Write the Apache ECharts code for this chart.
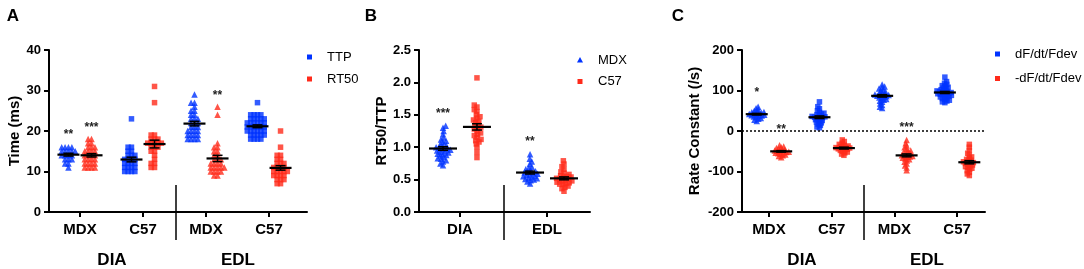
<!DOCTYPE html>
<html><head><meta charset="utf-8">
<script src="https://cdn.jsdelivr.net/npm/echarts@6/dist/echarts.min.js"></script>
<style>html,body{margin:0;padding:0;background:#fff}#c{width:1084px;height:269px}</style>
</head><body><div id="c"></div>
<script>
const FONT = '"Liberation Sans", Arial, Helvetica, sans-serif';
const BLUE = '#0033ff', RED = '#ff2a1a';

// ---------- Panel A : Time (ms) ----------
const catsA = ['MDX', 'C57', 'MDX', 'C57'];
const ttpA = [
  [16,16,16,16,15,15,15,15,15,14,14,14,14,13,13,13,12,12,11],
  [23,16,16,15,15,14,14,14,13,13,13,13,12,12,12,12,11,11,11,11,10,10,10,10],
  [29,27,27,26,25,25,24,24,23,23,23,22,22,22,21,21,21,20,20,20,20,19,19,19,19,18,18,18,18],
  [27,24,24,24,24,23,23,23,23,23,22,22,22,22,22,22,21,21,21,21,21,21,20,20,20,20,20,20,19,19,19,19,19,18,18,18,18]
];
const rt50A = [
  [18,18,17,17,16,16,16,15,15,15,15,14,14,14,14,13,13,13,13,12,12,12,12,11,11,11,11],
  [31,27,19,19,18,18,18,17,17,17,17,17,16,16,16,15,15,14,13,12,12,11,11],
  [26,24,17,16,16,15,15,14,14,13,13,13,12,12,12,12,11,11,11,11,11,10,10,10,10,9,9],
  [20,16,14,14,13,13,12,12,12,11,11,11,11,10,10,10,10,10,9,9,9,9,8,8,8,7,7]
];
const yTicksA = [0, 10, 20, 30, 40];
const starsA = [[0, -1, 19.8, '**'], [0, 1, 21.5, '***'], [2, 1, 29.4, '**']];

// ---------- Panel B : RT50/TTP ----------
const catsB = ['DIA', 'EDL'];
const mdxB = [
  [1.33,1.30,1.25,1.20,1.15,1.12,1.10,1.08,1.05,1.03,1.02,1.00,0.99,0.98,0.97,0.96,0.95,0.94,0.93,0.92,0.90,0.90,0.88,0.87,0.85,0.83,0.82,0.80,0.78,0.75,0.72],
  [0.89,0.82,0.78,0.74,0.70,0.68,0.66,0.64,0.63,0.62,0.61,0.60,0.59,0.58,0.57,0.56,0.55,0.54,0.53,0.52,0.51,0.50,0.49,0.47,0.44]
];
const c57B = [
  [2.07,1.65,1.62,1.58,1.55,1.50,1.47,1.45,1.42,1.40,1.38,1.35,1.33,1.31,1.30,1.28,1.25,1.22,1.20,1.18,1.15,1.12,1.10,1.08,1.05,1.00,0.92,0.84],
  [0.79,0.74,0.70,0.66,0.62,0.60,0.58,0.56,0.55,0.54,0.53,0.52,0.51,0.50,0.49,0.48,0.47,0.46,0.45,0.44,0.43,0.42,0.40,0.38,0.36,0.32]
];
const yTicksB = [0, 0.5, 1.0, 1.5, 2.0, 2.5];
const starsB = [[0, -1, 1.56, '***'], [1, -1, 1.125, '**']];

// ---------- Panel C : Rate Constant (/s) ----------
const catsC = ['MDX', 'C57', 'MDX', 'C57'];
const dfC = [
  [60,56,53,50,48,47,46,45,44,43,42,41,40,39,38,37,36,34,32,30,28,25],
  [72,60,55,50,46,44,42,40,38,36,35,34,33,32,30,28,26,24,22,20,17,14,10,8],
  [115,110,108,105,102,100,97,95,93,91,90,89,88,87,86,85,83,81,79,77,75,72,68,64,60,57],
  [133,122,118,115,112,110,108,106,104,102,100,99,98,97,96,95,94,93,92,91,90,89,88,86,85,84,82,80,78,76,74,72,70]
];
const negDfC = [
  [-35,-38,-40,-42,-44,-46,-47,-48,-49,-50,-51,-52,-53,-54,-55,-56,-58,-60,-62,-65],
  [-22,-26,-30,-33,-35,-37,-38,-40,-41,-42,-43,-44,-45,-46,-48,-50,-52,-54,-57,-60],
  [-22,-30,-36,-40,-44,-48,-50,-52,-54,-56,-58,-60,-61,-62,-63,-64,-66,-68,-70,-73,-76,-80,-85,-90,-97],
  [-33,-40,-48,-55,-60,-64,-67,-70,-72,-74,-76,-78,-79,-80,-82,-84,-86,-88,-90,-92,-95,-98,-102,-106,-110]
];
const yTicksC = [-200, -100, 0, 100, 200];
const starsC = [[0, -1, 101, '*'], [0, 1, 10.6, '**'], [2, 1, 16.5, '***']];

const groupLabels = ['DIA', 'EDL'];

// ---------- layout ----------
const GA = {left: 49, top: 50, width: 258, height: 162, xmin: -0.492, xmax: 3.603, ymin: 0, ymax: 40, off: 0.183, hw: 11, d: 3.4};
const GB = {left: 419, top: 50, width: 171, height: 162, xmin: -0.471, xmax: 1.494, ymin: 0, ymax: 2.5, off: 0.195, hw: 14, d: 3.3};
const GC = {left: 742, top: 50, width: 243, height: 162, xmin: -0.43, xmax: 3.445, ymin: -200, ymax: 200, off: 0.195, hw: 11, d: 2.6};
[GA, GB, GC].forEach(g => { g.pxX = g.width / (g.xmax - g.xmin); g.pxY = g.height / (g.ymax - g.ymin); });

function swarm(vals, pxY, d) {
  const order = vals.map((v, i) => i).sort((a, b) => vals[a] - vals[b]);
  const placed = [], out = new Array(vals.length);
  for (const i of order) {
    const y = vals[i] * pxY;
    const cands = [0];
    for (const p of placed) {
      const dy = Math.abs(p.y - y);
      if (dy < d) { const dx = Math.sqrt(d * d - dy * dy); cands.push(p.x + dx, p.x - dx); }
    }
    cands.sort((a, b) => Math.abs(a) - Math.abs(b) || a - b);
    let x = 0;
    for (const c of cands) {
      if (placed.every(p => (p.x - c) ** 2 + (p.y - y) ** 2 >= d * d - 1e-6)) { x = c; break; }
    }
    placed.push({x, y}); out[i] = x;
  }
  return out;
}
function stats(v) {
  const n = v.length, m = v.reduce((a, b) => a + b, 0) / n;
  const sd = Math.sqrt(v.reduce((a, b) => a + (b - m) ** 2, 0) / (n - 1));
  return [m, sd / Math.sqrt(n)];
}

const series = [];
const meanData = [[], [], []];
function addGroup(pi, g, name, vals, center, side, symbol, color) {
  const u = center + side * g.off;
  const offs = swarm(vals, g.pxY, g.d);
  series.push({
    type: 'scatter', name, xAxisIndex: pi, yAxisIndex: pi, z: 2,
    symbol, symbolSize: symbol === 'triangle' ? 6.5 : 5.5,
    itemStyle: {color}, silent: true,
    data: vals.map((v, k) => [u + offs[k] / g.pxX, v])
  });
  const [m, s] = stats(vals);
  meanData[pi].push([u, m, s]);
}
const symOf = s => s === 'MDX' ? 'triangle' : 'rect';
catsA.forEach((c, i) => {
  addGroup(0, GA, 'TTP', ttpA[i], i, -1, symOf(c), BLUE);
  addGroup(0, GA, 'RT50', rt50A[i], i, 1, symOf(c), RED);
});
catsB.forEach((c, i) => {
  addGroup(1, GB, 'MDX', mdxB[i], i, -1, 'triangle', BLUE);
  addGroup(1, GB, 'C57', c57B[i], i, 1, 'rect', RED);
});
catsC.forEach((c, i) => {
  addGroup(2, GC, 'dF/dt/Fdev', dfC[i], i, -1, symOf(c), BLUE);
  addGroup(2, GC, '-dF/dt/Fdev', negDfC[i], i, 1, symOf(c), RED);
});
// zero reference line in C
series.push({
  type: 'line', xAxisIndex: 2, yAxisIndex: 2, data: [], silent: true,
  markLine: {silent: true, symbol: 'none', label: {show: false},
    lineStyle: {type: [2, 2], color: '#000', width: 1.5}, data: [{yAxis: 0}]}
});
// mean + SEM
[GA, GB, GC].forEach((g, pi) => {
  series.push({
    type: 'custom', xAxisIndex: pi, yAxisIndex: pi, z: 5, silent: true,
    data: meanData[pi],
    renderItem: (params, api) => {
      const x = api.value(0), m = api.value(1), s = api.value(2);
      const c = api.coord([x, m]), t = api.coord([x, m + s]), b = api.coord([x, m - s]);
      const st = {stroke: '#000', lineWidth: 1.5};
      return {type: 'group', children: [
        {type: 'line', shape: {x1: c[0], y1: t[1], x2: c[0], y2: b[1]}, style: st},
        {type: 'line', shape: {x1: c[0] - 5, y1: t[1], x2: c[0] + 5, y2: t[1]}, style: st},
        {type: 'line', shape: {x1: c[0] - 5, y1: b[1], x2: c[0] + 5, y2: b[1]}, style: st},
        {type: 'line', shape: {x1: c[0] - g.hw, y1: c[1], x2: c[0] + g.hw, y2: c[1]}, style: {stroke: '#000', lineWidth: 2.2}}
      ]};
    }
  });
});
// significance stars
[[GA, starsA], [GB, starsB], [GC, starsC]].forEach(([g, st], pi) => {
  series.push({
    type: 'custom', xAxisIndex: pi, yAxisIndex: pi, z: 6, silent: true,
    data: st.map(s => [s[0] + s[1] * g.off, s[2]]),
    renderItem: (params, api) => {
      const p = api.coord([api.value(0), api.value(1)]);
      return {type: 'text', x: p[0], y: p[1] + 3,
        style: {text: st[params.dataIndex][3], font: 'bold 12px ' + FONT, fill: '#222', align: 'center', verticalAlign: 'middle'}};
    }
  });
});

function grid(g) { return {left: g.left, top: g.top, width: g.width, height: g.height, containLabel: false}; }
const axisLine = {show: true, onZero: false, lineStyle: {color: '#000', width: 2}};
const axisTick = {show: true, length: 5, lineStyle: {color: '#000', width: 2}};
function xAx(g, cats, gi, fs) {
  const vals = cats.map((c, i) => i);
  return {type: 'value', gridIndex: gi, min: g.xmin, max: g.xmax, splitLine: {show: false},
    axisLine,
    axisTick: Object.assign({customValues: vals}, axisTick),
    axisLabel: {customValues: vals, formatter: v => cats[Math.round(v)], margin: 10,
      fontFamily: FONT, fontWeight: 'bold', fontSize: fs, color: '#000'}};
}
function yAx(g, gi, name, gap, fmt) {
  return {type: 'value', gridIndex: gi, min: g.ymin, max: g.ymax,
    interval: (g.ymax - g.ymin) / (gi === 1 ? 5 : 4),
    splitLine: {show: false}, axisLine, axisTick,
    axisLabel: {margin: 8, fontFamily: FONT, fontWeight: 'bold', fontSize: 13, color: '#000', formatter: fmt},
    name, nameLocation: 'middle', nameRotate: 90, nameGap: gap,
    nameTextStyle: {fontFamily: FONT, fontWeight: 'bold', fontSize: 15, color: '#000'}};
}

const T = (text, x, y, size, weight, align) => ({type: 'text', x, y,
  style: {text, font: (weight || 'bold') + ' ' + size + 'px ' + FONT, fill: '#000', align: align || 'center', verticalAlign: 'middle'}});
const L = (x, y1, y2) => ({type: 'line', shape: {x1: x, y1, x2: x, y2}, style: {stroke: '#000', lineWidth: 1.5}});
const sq = (cx, cy, color) => ({type: 'rect', shape: {x: cx - 2.5, y: cy - 2.5, width: 5, height: 5}, style: {fill: color}});
const tri = (cx, cy, color) => ({type: 'polygon', shape: {points: [[cx, cy - 3], [cx + 3, cy + 2.5], [cx - 3, cy + 2.5]]}, style: {fill: color}});

const graphic = [
  T('A', 13, 16, 17), T('B', 371, 16, 17), T('C', 678, 16, 17),
  L(176, 185, 240), L(504, 185, 240), L(864, 185, 240),
  T(groupLabels[0], 112, 260, 17), T(groupLabels[1], 238, 260, 17),
  T(groupLabels[0], 802, 260, 17), T(groupLabels[1], 927, 260, 17),
  sq(309.5, 57, BLUE), T('TTP', 327, 57, 13, 'normal', 'left'),
  sq(309.5, 79, RED), T('RT50', 327, 79, 13, 'normal', 'left'),
  tri(580, 60, BLUE), T('MDX', 598, 60, 13, 'normal', 'left'),
  sq(580, 81.5, RED), T('C57', 598, 81.5, 13, 'normal', 'left'),
  sq(997.5, 54, BLUE), T('dF/dt/Fdev', 1015, 54, 13, 'normal', 'left'),
  sq(997.5, 78.5, RED), T('-dF/dt/Fdev', 1015, 78.5, 13, 'normal', 'left')
];

const chart = echarts.init(document.getElementById('c'), null, {renderer: 'canvas'});
chart.setOption({
  animation: false,
  backgroundColor: '#fff',
  grid: [grid(GA), grid(GB), grid(GC)],
  xAxis: [xAx(GA, catsA, 0, 15), xAx(GB, catsB, 1, 15), xAx(GC, catsC, 2, 15)],
  yAxis: [
    yAx(GA, 0, 'Time (ms)', 21),
    yAx(GB, 1, 'RT50/TTP', 27, v => v.toFixed(1)),
    yAx(GC, 2, 'Rate Constant (/s)', 40)
  ],
  series,
  graphic
});
</script></body></html>
